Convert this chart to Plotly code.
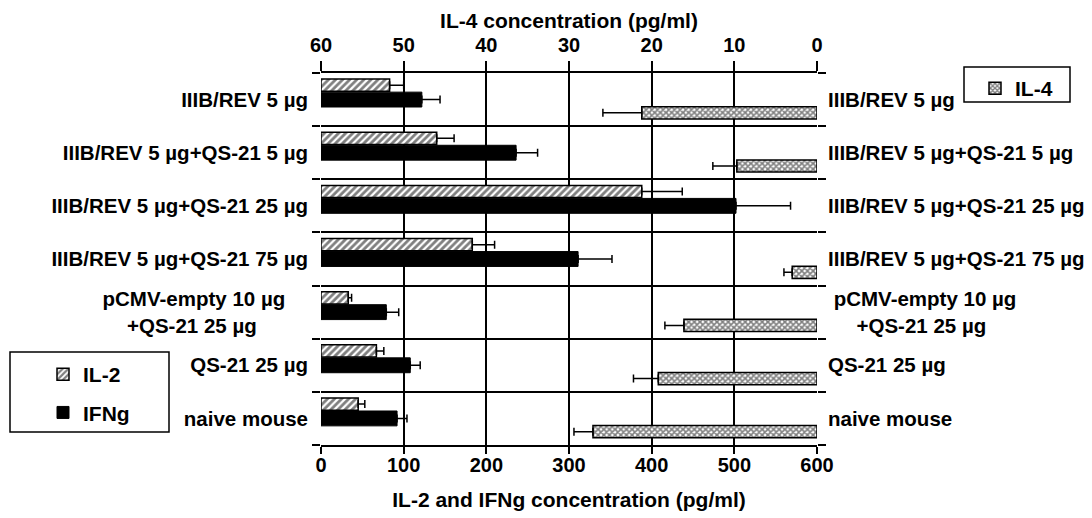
import plotly.graph_objects as go

NB = "\u00a0"
labels_left = ["IIIB/REV 5 µg", "IIIB/REV 5 µg+QS-21 5 µg", "IIIB/REV 5 µg+QS-21 25 µg",
               "IIIB/REV 5 µg+QS-21 75 µg",
               "pCMV-empty 10 µg" + NB * 4 + "<br>+QS-21 25 µg" + NB * 9,
               "QS-21 25 µg", "naive mouse"]
labels_right = ["IIIB/REV 5 µg", "IIIB/REV 5 µg+QS-21 5 µg", "IIIB/REV 5 µg+QS-21 25 µg",
                "IIIB/REV 5 µg+QS-21 75 µg",
                NB + "pCMV-empty 10 µg<br>" + NB * 5 + "+QS-21 25 µg",
                "QS-21 25 µg", "naive mouse"]

il2 = [83, 140, 388, 183, 33, 67, 45]
il2_err = [17, 21, 49, 27, 4, 9, 8]
ifng = [122, 236, 502, 311, 79, 108, 92]
ifng_err = [22, 26, 66, 41, 15, 12, 12]
il4 = [21.2, 9.7, None, 3.0, 16.1, 19.2, 27.1]
il4_err = [4.7, 2.9, None, 1.0, 2.3, 3.0, 2.3]

x_ticks = [0, 100, 200, 300, 400, 500, 600]
x2_ticks = [60, 50, 40, 30, 20, 10, 0]

pos = list(range(len(labels_left)))
FONT = "Liberation Sans, Arial, sans-serif"
FS = 20
FL = 20.5

fig = go.Figure()
fig.add_trace(go.Bar(
    name="IL-2", y=pos, x=il2, orientation="h", offset=-0.385, width=0.23,
    marker=dict(color="white", line=dict(color="black", width=1.5),
                pattern=dict(shape="/", fgcolor="black", bgcolor="white", size=5, solidity=0.55)),
    error_x=dict(type="data", array=il2_err, symmetric=False, arrayminus=[0]*7,
                 color="black", thickness=1.5, width=4),
    xaxis="x", yaxis="y", legend="legend", legendgroup="a"))
fig.add_trace(go.Bar(
    name="IFNg", y=pos, x=ifng, orientation="h", offset=-0.14, width=0.28,
    marker=dict(color="black", line=dict(color="black", width=1)),
    error_x=dict(type="data", array=ifng_err, symmetric=False, arrayminus=[0]*7,
                 color="black", thickness=1.5, width=4),
    xaxis="x", yaxis="y", legend="legend", legendgroup="b"))
fig.add_trace(go.Bar(
    name="IL-4", y=pos, x=il4, orientation="h", offset=0.135, width=0.23,
    marker=dict(color="white", line=dict(color="black", width=1.5),
                pattern=dict(shape="x", fgcolor="black", bgcolor="white", size=4, solidity=0.65)),
    error_x=dict(type="data", array=il4_err, symmetric=False, arrayminus=[0]*7,
                 color="black", thickness=1.5, width=4),
    xaxis="x2", yaxis="y2", legend="legend2"))

bounds = [i - 0.5 for i in range(len(labels_left) + 1)]
tickfont = dict(family=FONT, size=FS, color="black", weight="bold")
catfont = dict(family=FONT, size=FL, color="black", weight="bold")
legfont = dict(family=FONT, size=21, color="black", weight="bold")

fig.update_layout(
    width=1092, height=518,
    margin=dict(l=321, r=275, t=73, b=73, autoexpand=False),
    paper_bgcolor="white", plot_bgcolor="white",
    font=dict(family=FONT, color="black"),
    barmode="overlay",
    xaxis=dict(range=[0, 600], tickvals=x_ticks, showgrid=True, gridcolor="black", gridwidth=2,
               showline=True, linecolor="black", linewidth=2, ticks="outside", ticklen=7,
               tickwidth=2, tickcolor="black", zeroline=False, tickfont=tickfont,
               ticklabelstandoff=-6,
               title=dict(text="IL-2 and IFNg concentration (pg/ml)", standoff=17,
                          font=dict(family=FONT, size=21, weight="bold")),
               side="bottom", anchor="y", automargin=False),
    xaxis2=dict(range=[60, 0], tickvals=x2_ticks, overlaying="x", side="top", anchor="y",
                showgrid=False, showline=True, linecolor="black", linewidth=2, ticks="outside",
                ticklen=10, tickwidth=2, tickcolor="black", zeroline=False, tickfont=tickfont,
                automargin=False, ticklabelstandoff=1,
                title=dict(text="IL-4 concentration (pg/ml)", standoff=0,
                           font=dict(family=FONT, size=21, weight="bold"))),
    yaxis=dict(range=[6.5, -0.5], tickvals=pos, ticktext=labels_left, ticks="",
               showgrid=False, zeroline=False, showline=False, ticklabelstandoff=12,
               tickfont=catfont, automargin=False,
               minor=dict(tickvals=bounds, ticks="outside", ticklen=8, tickwidth=2,
                          tickcolor="black", showgrid=True, gridcolor="black", gridwidth=2)),
    yaxis2=dict(range=[6.5, -0.5], tickvals=pos, ticktext=labels_right, overlaying="y",
                side="right", anchor="x", ticks="", showgrid=False, zeroline=False,
                showline=False, ticklabelstandoff=10, tickfont=catfont, automargin=False,
                minor=dict(tickvals=bounds, ticks="outside", ticklen=8, tickwidth=2,
                           tickcolor="black", showgrid=False)),
    legend=dict(x=(43 - 321) / 496, y=(445 - 354) / 372, xanchor="left", yanchor="top",
                borderwidth=0, bgcolor="rgba(0,0,0,0)", font=legfont,
                tracegroupgap=8, itemwidth=30),
    legend2=dict(x=(975 - 321) / 496, y=(445 - 68) / 372, xanchor="left", yanchor="top",
                 borderwidth=0, bgcolor="rgba(0,0,0,0)", font=legfont, itemwidth=30),
    shapes=[
        dict(type="rect", xref="paper", yref="paper",
             x0=(10 - 321) / 496, x1=(169 - 321) / 496,
             y0=(445 - 432) / 372, y1=(445 - 352) / 372,
             line=dict(color="black", width=1.5), layer="below"),
        dict(type="rect", xref="paper", yref="paper",
             x0=(964 - 321) / 496, x1=(1070 - 321) / 496,
             y0=(445 - 102) / 372, y1=(445 - 67) / 372,
             line=dict(color="black", width=1.5), layer="below"),
    ],
)

fig.write_html("out.html", post_script="document.body.style.margin='0px';",
               config={"displayModeBar": False})
